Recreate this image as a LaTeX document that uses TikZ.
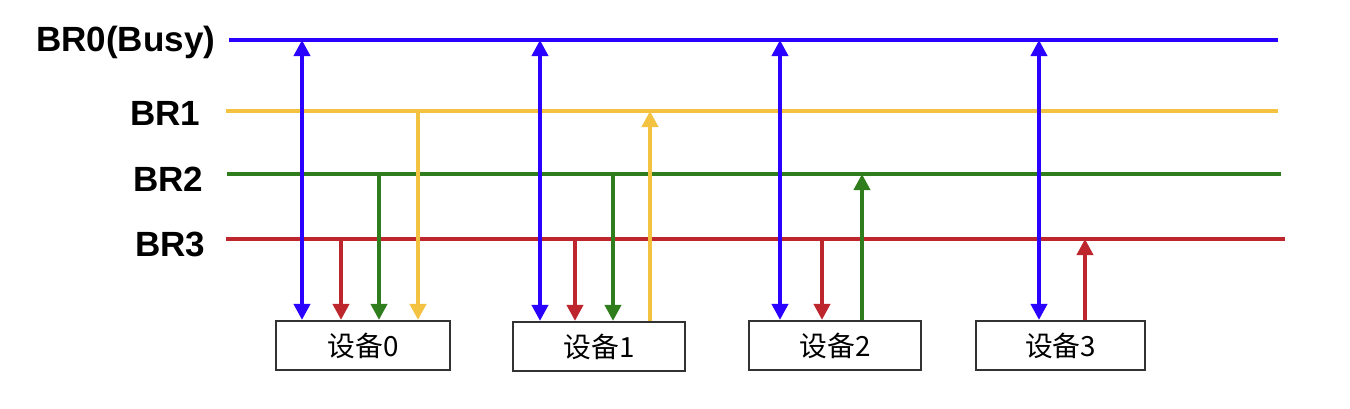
\documentclass[tikz,border=0pt]{standalone}
\usepackage{fontspec}
\setmainfont{Liberation Sans}
\newfontfamily\cjk{Noto Sans CJK SC}
\usetikzlibrary{arrows.meta}
\definecolor{cblue}{RGB}{42,0,255}
\definecolor{cyellow}{RGB}{242,194,64}
\definecolor{cgreen}{RGB}{48,125,30}
\definecolor{cred}{RGB}{190,38,45}
\definecolor{cbox}{RGB}{50,50,50}
\tikzset{
  bus/.style={line width=1.15pt},
  sig/.style={line width=1.1pt},
  tipA/.style={-{Triangle[length=4.6pt,width=4.6pt]}},
  tipB/.style={{Triangle[length=4.6pt,width=4.6pt]}-{Triangle[length=4.6pt,width=4.6pt]}},
  lab/.style={anchor=east,font=\bfseries\fontsize{9.96pt}{11pt}\selectfont,inner sep=0pt},
  dev/.style={draw=cbox,line width=0.6pt,minimum height=0.49cm,inner sep=0pt,font=\cjk\fontsize{7.9pt}{9pt}\selectfont}
}
\begin{document}
\begin{tikzpicture}[x=0.01cm,y=-0.01cm]
\useasboundingbox (0,0) rectangle (1350,409);
% labels
\node[lab] (l0) at (216,42) {BR0(Busy)};
\node[lab] (l1) at (201,113) {BR1};
\node[lab] (l2) at (204,179) {BR2};
\node[lab] (l3) at (206,244) {BR3};
% bus ends
\coordinate (b0s) at (229,40);  \coordinate (b0e) at (1278,40);
\coordinate (b1s) at (226,111); \coordinate (b1e) at (1278,111);
\coordinate (b2s) at (227,174); \coordinate (b2e) at (1281,174);
\coordinate (b3s) at (226,239); \coordinate (b3e) at (1285,239);
\draw[bus,cblue] (b0s) -- (b0e);
\draw[bus,cyellow] (b1s) -- (b1e);
\draw[bus,cgreen] (b2s) -- (b2e);
\draw[bus,cred] (b3s) -- (b3e);
% devices
\node[dev,minimum width=1.74cm] (d0) at (363,345.5) {设备0};
\node[dev,minimum width=1.72cm] (d1) at (599,346.5) {设备1};
\node[dev,minimum width=1.72cm] (d2) at (835,345.5) {设备2};
\node[dev,minimum width=1.69cm] (d3) at (1060.5,345.5) {设备3};
% device 0
\draw[sig,tipB,cblue] (302,0 |- b0s) -- (302,0 |- d0.north);
\draw[sig,tipA,cred] (341,0 |- b3s) -- (341,0 |- d0.north);
\draw[sig,tipA,cgreen] (379,0 |- b2s) -- (379,0 |- d0.north);
\draw[sig,tipA,cyellow] (418,0 |- b1s) -- (418,0 |- d0.north);
% device 1
\draw[sig,tipB,cblue] (540,0 |- b0s) -- (540,0 |- d1.north);
\draw[sig,tipA,cred] (575,0 |- b3s) -- (575,0 |- d1.north);
\draw[sig,tipA,cgreen] (613,0 |- b2s) -- (613,0 |- d1.north);
\draw[sig,tipA,cyellow] (650,0 |- d1.north) -- (650,0 |- b1s);
% device 2
\draw[sig,tipB,cblue] (780,0 |- b0s) -- (780,0 |- d2.north);
\draw[sig,tipA,cred] (822,0 |- b3s) -- (822,0 |- d2.north);
\draw[sig,tipA,cgreen] (862,0 |- d2.north) -- (862,0 |- b2s);
% device 3
\draw[sig,tipB,cblue] (1039,0 |- b0s) -- (1039,0 |- d3.north);
\draw[sig,tipA,cred] (1085,0 |- d3.north) -- (1085,0 |- b3s);
\end{tikzpicture}
\end{document}
